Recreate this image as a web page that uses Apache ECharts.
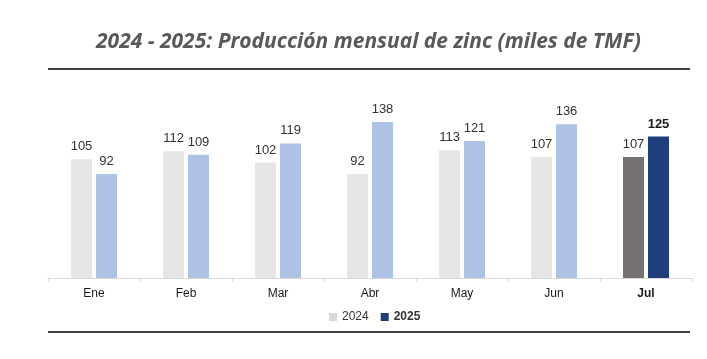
<!DOCTYPE html>
<html><head><meta charset="utf-8">
<script src="https://cdn.jsdelivr.net/npm/echarts@6/dist/echarts.min.js"></script>
<style>html,body{margin:0;padding:0;background:#fff}#c{width:707px;height:359px}</style>
</head><body><div id="c"></div>
<script>
const categories = ['Ene','Feb','Mar','Abr','May','Jun','Jul'];
const values2024 = [105,112,102,92,113,107,107];
const values2025 = [92,109,119,138,121,136,125];
const seriesNames = ['2024','2025'];
const titleText = '2024 - 2025: Producción mensual de zinc (miles de TMF)';

const last = categories.length - 1;
const c24 = '#e6e6e6', c24last = '#757171', c25 = '#adc2e4', c25last = '#1f3f7c';
function mk(vals, base, lastc, boldLast){
  return vals.map((v,i)=>({
    value:v,
    itemStyle:{color: i===last ? lastc : base},
    label: i===last && boldLast ? {fontWeight:'bold', color:'#1a1a1a'} : undefined
  }));
}
const chart = echarts.init(document.getElementById('c'));
chart.setOption({
  animation:false,
  title:{text:titleText,left:91,top:27,textStyle:{fontFamily:'Open Sans',fontStyle:'italic',fontWeight:'bold',fontSize:21,color:'#595959'}},
  grid:{left:48,right:15,top:97,bottom:81},
  legend:{bottom:31,left:324,itemWidth:8,itemHeight:8,itemGap:12,icon:'rect',
    textStyle:{fontFamily:'Liberation Sans',fontSize:12,color:'#333'},
    data:[{name:seriesNames[0],itemStyle:{color:'#d9d9d9'}},{name:seriesNames[1],itemStyle:{color:c25last},textStyle:{fontWeight:'bold'}}]},
  xAxis:{type:'category',data:categories.map((c,i)=> i===last ? {value:c,textStyle:{fontWeight:'bold'}} : c),
    axisLine:{lineStyle:{color:'#d9d9d9'}},
    axisTick:{show:true,length:4,lineStyle:{color:'#d9d9d9'}},
    axisLabel:{fontFamily:'Liberation Sans',fontSize:12,color:'#1a1a1a',margin:10}},
  yAxis:{type:'value',min:0,max:160,show:false},
  series:[
    {name:seriesNames[0],type:'bar',data:mk(values2024,c24,c24last,false),barWidth:21,barGap:'19%',itemStyle:{color:'#d9d9d9'},
     label:{show:true,position:'top',distance:6,fontFamily:'Liberation Sans',fontSize:13,color:'#333'}},
    {name:seriesNames[1],type:'bar',data:mk(values2025,c25,c25last,true),barWidth:21,itemStyle:{color:c25last},
     label:{show:true,position:'top',distance:6,fontFamily:'Liberation Sans',fontSize:13,color:'#333'}}
  ],
  graphic:[
    {type:'line',shape:{x1:48,y1:69,x2:690,y2:69},style:{stroke:'#404040',lineWidth:2}},
    {type:'line',shape:{x1:48,y1:332,x2:690,y2:332},style:{stroke:'#404040',lineWidth:2}}
  ]
});
</script></body></html>
